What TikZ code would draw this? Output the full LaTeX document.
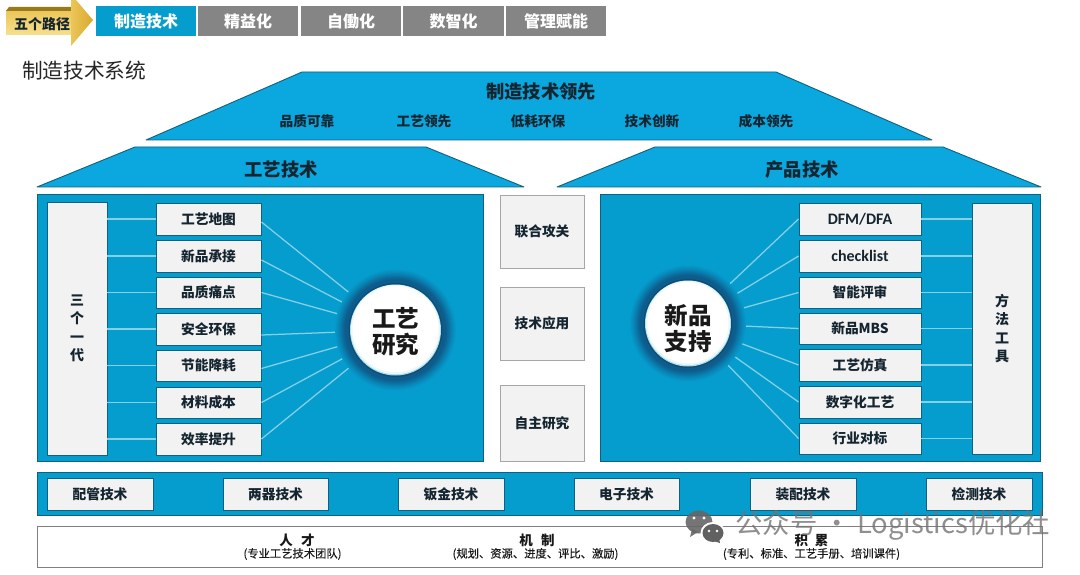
\documentclass[tikz,border=0pt]{standalone}
\usepackage{fontspec}
\setmainfont{Noto Sans CJK SC}
\newfontfamily\latinb{Carlito}
\usetikzlibrary{calc,shapes.geometric}
\definecolor{panelblue}{HTML}{059DCE}
\definecolor{roofblue}{HTML}{0AA8DF}
\definecolor{edgeblue}{HTML}{10607F}
\definecolor{boxgrey}{HTML}{F2F2F2}
\definecolor{tabgrey}{HTML}{858585}
\definecolor{linkblue}{HTML}{86D0E6}
\definecolor{ringdark}{HTML}{0E5C8C}
\definecolor{inkdark}{HTML}{152530}
\definecolor{goldband}{HTML}{9A7A18}
\definecolor{goldlight}{HTML}{F6E08E}
\definecolor{goldmid}{HTML}{EBC65A}
\definecolor{golddeep}{HTML}{D9A92C}
\newcommand{\fsz}[1]{\fontsize{#1}{#1}\selectfont}
% #1 style, #2 name, #3 x1, #4 y1, #5 x2, #6 y2, #7 text
\newcommand{\bx}[7]{%
  \pgfmathsetmacro{\bw}{#5-#3}\pgfmathsetmacro{\bh}{#6-#4}%
  \pgfmathsetmacro{\cxx}{(#3+#5)/2}\pgfmathsetmacro{\cyy}{(#4+#6)/2}%
  \node[#1,minimum width=\bw pt,minimum height=\bh pt] (#2) at (\cxx,\cyy) {#7};}
% soft dark ring with a white disc: #1 centre, #2 disc radius
\newcommand{\ringdisc}[2]{%
  \foreach \st/\mx in {15/8,14/16,13/24,12/32,11/42,10/52,9/62,8/72,7/82,6/92,5/100}{%
    \pgfmathsetmacro{\rr}{#2+\st}%
    \fill[ringdark!\mx!panelblue] (#1) circle (\rr);}%
  \pgfmathsetmacro{\rr}{#2+1.5}\fill[ringdark!85!black] (#1) circle (\rr);%
  \pgfmathsetmacro{\rr}{#2}\fill[linkblue!70] (#1) circle (\rr);%
  \fill[white!85!linkblue] ($(#1)+(0,-0.5)$) circle (\rr-0.8);%
  \fill[white] ($(#1)+(0,-1)$) circle (\rr-2.5);}
\tikzset{
  cellbox/.style={draw=edgeblue,line width=0.9pt,fill=boxgrey,inner sep=0pt,text=inkdark,font=\fsz{13.7}\bfseries},
  latincell/.style={cellbox,font=\latinb\fsz{16}\bfseries},
  tallbox/.style={draw=edgeblue,line width=0.7pt,fill=boxgrey,inner sep=0pt,text=inkdark,font=\fsz{14}\bfseries,align=center},
  panel/.style={draw=edgeblue,line width=1pt,fill=panelblue,inner sep=0pt},
  midbox/.style={draw=gray!70,line width=0.8pt,fill=boxgrey,inner sep=0pt,text=inkdark,font=\fsz{13.7}\bfseries},
  tabon/.style={fill=panelblue,inner sep=0pt,text=white,font=\fsz{16}\bfseries},
  taboff/.style={fill=tabgrey,inner sep=0pt,text=white,font=\fsz{16}\bfseries},
  roof/.style={fill=roofblue,draw=edgeblue,line width=0.9pt,line join=round},
  rooftext/.style={text=inkdark,font=\fsz{18.3}\bfseries,inner sep=0pt},
  roofsub/.style={text=inkdark,font=\fsz{13.7}\bfseries,inner sep=0pt},
  link/.style={draw=linkblue,line width=1.25pt},
  disctext/.style={inner sep=0pt,align=center,text=black!90,font=\fsz{23.5}\bfseries},
  basetitle/.style={text=black!90,font=\fsz{13.5}\bfseries,inner sep=0pt},
  basesub/.style={text=black!90,font=\addfontfeature{FakeBold=0.25}\fsz{11.3},inner sep=0pt},
  wmtext/.style={text=black!55,font=\fsz{27.4},inner sep=0pt,opacity=0.8}
}
\begin{document}
\begin{tikzpicture}[x=1pt,y=-1pt]
\useasboundingbox (0,0) rectangle (1080,575);
\fill[white] (0,0) rectangle (1080,575);

% gold path arrow
\shade[left color=goldlight,right color=goldmid,shading angle=90,top color=goldmid,bottom color=goldlight]
  (6,11) -- (72,11) -- (72,35) -- (6,35) -- cycle;
\fill[goldband] (9,7) -- (71,7) -- (71,11) -- (6,11) -- cycle;
\shade[left color=goldmid,right color=golddeep]
  (71,0) -- (76,0) -- (93,20) -- (71,46) -- cycle;
\node[inner sep=0pt,text=inkdark,font=\fsz{14}\bfseries] (path) at (42,24.5) {五个路径};

% tabs
\bx{tabon}{t1}{96}{6}{196}{36}{制造技术}
\bx{taboff}{t2}{198}{6}{298}{36}{精益化}
\bx{taboff}{t3}{301}{6}{401}{36}{自働化}
\bx{taboff}{t4}{403}{6}{504}{36}{数智化}
\bx{taboff}{t5}{506}{6}{606}{36}{管理赋能}

\node[anchor=west,inner sep=0pt,text=black!85,font=\fsz{20.7}] (title) at (22,71) {制造技术系统};

% roofs
\draw[roof] (146,140) -- (302,72) -- (776,72) -- (932,140) -- cycle;
\draw[roof] (37,187) -- (135,147) -- (426,147) -- (524,187) -- cycle;
\draw[roof] (557,187) -- (655,147) -- (943,147) -- (1041,187) -- cycle;
\node[rooftext] (r0) at (541,91.5) {制造技术领先};
\node[roofsub] (r1) at (307,121) {品质可靠};
\node[roofsub] (r2) at (424,121) {工艺领先};
\node[roofsub] (r3) at (538,121) {低耗环保};
\node[roofsub] (r4) at (652,121) {技术创新};
\node[roofsub] (r5) at (766,121) {成本领先};
\node[rooftext] (r6) at (281,170) {工艺技术};
\node[rooftext] (r7) at (802,170) {产品技术};

% panels
\bx{panel}{pL}{37}{195}{483}{461}{}
\bx{panel}{pR}{600.5}{195}{1040}{461}{}

% left group
\bx{tallbox}{tL}{47}{202}{107}{455}{三\\[4.5pt]个\\[4.5pt]一\\[4.5pt]代}
\bx{cellbox}{a1}{156}{203}{261}{235}{工艺地图}
\bx{cellbox}{a2}{156}{240}{261}{272}{新品承接}
\bx{cellbox}{a3}{156}{277}{261}{308}{品质痛点}
\bx{cellbox}{a4}{156}{313}{261}{345}{安全环保}
\bx{cellbox}{a5}{156}{350}{261}{381}{节能降耗}
\bx{cellbox}{a6}{156}{387}{261}{418}{材料成本}
\bx{cellbox}{a7}{156}{423}{261}{455}{效率提升}
\foreach \n in {a1,a2,a3,a4,a5,a6,a7}{\draw[link] (\n.west) -- (\n.west -| tL.east);}
\coordinate (cLc) at (395.5,330);
\draw[link] ([yshift=-3pt]a1.east) -- (cLc);
\draw[link] ([yshift=-4pt]a2.east) -- (cLc);
\draw[link] (a3.east) -- (cLc);
\draw[link] ([yshift=-6pt]a4.east) -- (cLc);
\draw[link] ([yshift=-3pt]a5.east) -- (cLc);
\draw[link] (a6.east) -- (cLc);
\draw[link] (a7.east) -- (cLc);
\ringdisc{cLc}{45.5}
\node[disctext] (dL) at (395.5,331.5) {工艺\\[2.5pt]研究};

% right group
\bx{tallbox}{tR}{972}{203}{1032}{454}{方\\[4.5pt]法\\[4.5pt]工\\[4.5pt]具}
\bx{latincell}{b1}{799}{203}{921}{235}{DFM/DFA}
\bx{latincell}{b2}{799}{240}{921}{272}{checklist}
\bx{cellbox}{b3}{799}{277}{921}{308}{智能评审}
\bx{cellbox}{b4}{799}{313}{921}{344}{新品MBS}
\bx{cellbox}{b5}{799}{349}{921}{381}{工艺仿真}
\bx{cellbox}{b6}{799}{386}{921}{418}{数字化工艺}
\bx{cellbox}{b7}{799}{423}{921}{454}{行业对标}
\foreach \n in {b1,b2,b3,b4,b5,b6,b7}{\draw[link] (\n.east) -- (\n.east -| tR.west);}
\coordinate (cRc) at (688,323.5);
\foreach \n in {b1,b2,b3,b4,b5,b6,b7}{\draw[link] (\n.west) -- (cRc);}
\ringdisc{cRc}{43}
\node[disctext] (dR) at (688,328) {新品\\[2.5pt]支持};

% middle column
\bx{midbox}{m1}{500}{195}{584}{268}{联合攻关}
\bx{midbox}{m2}{500}{287}{584}{360}{技术应用}
\bx{midbox}{m3}{500}{385}{584}{461}{自主研究}

% lower strip
\bx{panel}{strip}{37}{472}{1042}{515}{}
\bx{cellbox}{s1}{47}{478}{153}{510}{配管技术}
\bx{cellbox}{s2}{223}{478}{328}{510}{两器技术}
\bx{cellbox}{s3}{398}{478}{504}{510}{钣金技术}
\bx{cellbox}{s4}{574}{478}{679}{510}{电子技术}
\bx{cellbox}{s5}{750}{478}{856}{510}{装配技术}
\bx{cellbox}{s6}{926}{478}{1032}{510}{检测技术}

% base
\draw[gray,line width=1pt,fill=white] (37,526) rectangle (1042,567);
\node[basetitle] (h1) at (297,540) {人\hspace{0.6em}才};
\node[basesub] (h2) at (292.5,554) {(专业工艺技术团队)};
\node[basetitle] (h3) at (537,540) {机\hspace{0.6em}制};
\node[basesub] (h4) at (535.5,554) {(规划、资源、进度、评比、激励)};
\node[basetitle] (h5) at (811.5,540) {积\hspace{0.5em}累};
\node[basesub] (h6) at (811.5,554) {(专利、标准、工艺手册、培训课件)};

% watermark
\fill[black!60,opacity=0.9] (699,522) ellipse (13.5 and 11.5);
\fill[black!60,opacity=0.9] (690,537) -- (692,529) -- (698,532) -- cycle;
\fill[white] (713,533) ellipse (12.5 and 11);
\fill[black!62] (713,533) ellipse (10.5 and 9);
\fill[black!62] (720,543) -- (719,538) -- (714,541) -- cycle;
\fill[white] (694,518) circle (1.7) (704,518) circle (1.7) (709,531) circle (1.3) (717,531) circle (1.3);
\node[wmtext,anchor=west] (wm) at (735,525) {公众号 · Logistics优化社};
\end{tikzpicture}
\end{document}
